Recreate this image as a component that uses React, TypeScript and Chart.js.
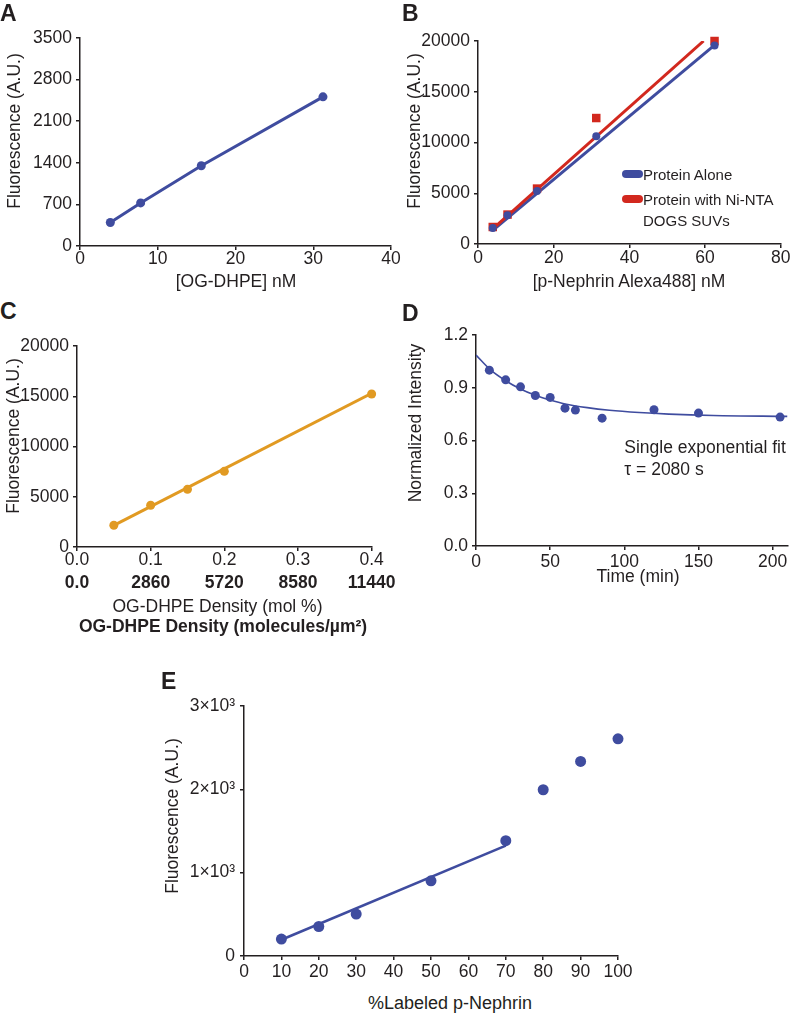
import React, { useEffect, useRef } from 'react';
import { Chart, registerables } from 'chart.js';

Chart.register(...registerables);

const FONT = '"Liberation Sans", Arial, Helvetica, sans-serif';
const AXIS = '#231f20';
const BLUE = '#3f4c9f';
const RED = '#d2281e';
const ORANGE = '#e19a22';

// ---------- Panel A ----------
const aConc = [3.9, 7.8, 15.6, 31.25];
const aFluor = [395, 725, 1350, 2510];
const aXTicks = [0, 10, 20, 30, 40];
const aXLabels = ['0', '10', '20', '30', '40'];
const aYTicks = [0, 700, 1400, 2100, 2800, 3500];
const aYLabels = ['0', '700', '1400', '2100', '2800', '3500'];

// ---------- Panel B ----------
const bConc = [3.9, 7.8, 15.6, 31.25, 62.5];
const bAlone = [1576, 2830, 5210, 10610, 19550];
const bNiNta = [1675, 2900, 5460, 12410, 20000];
const bAloneFitX = [3.9, 62.5];
const bAloneFitY = [1350, 19600];
const bNiFitX = [3.9, 59.6];
const bNiFitY = [1500, 20000];
const bXTicks = [0, 20, 40, 60, 80];
const bXLabels = ['0', '20', '40', '60', '80'];
const bYTicks = [0, 5000, 10000, 15000, 20000];
const bYLabels = ['0', '5000', '10000', '15000', '20000'];
const bSeriesNames = ['Protein Alone', 'Protein with Ni-NTA', 'DOGS SUVs'];

// ---------- Panel C ----------
const cMol = [0.05, 0.1, 0.15, 0.2, 0.4];
const cFluor = [2160, 4150, 5740, 7530, 15220];
const cFitX = [0.05, 0.4];
const cFitY = [2150, 15300];
const cXTicks = [0, 0.1, 0.2, 0.3, 0.4];
const cXLabels = ['0.0', '0.1', '0.2', '0.3', '0.4'];
const cXLabelsMolecules = ['0.0', '2860', '5720', '8580', '11440'];
const cYTicks = [0, 5000, 10000, 15000, 20000];
const cYLabels = ['0', '5000', '10000', '15000', '20000'];

// ---------- Panel D ----------
const dTime = [9, 20, 30, 40, 50, 60, 67, 85, 120, 150, 205];
const dIntensity = [1.0, 0.945, 0.905, 0.856, 0.845, 0.784, 0.773, 0.727, 0.775, 0.756, 0.733];
const dFitTime = [0, 10, 20, 30, 40, 50, 60, 75, 90, 110, 130, 160, 210];
const dFitIntensity = [1.086, 1.0, 0.94, 0.893, 0.857, 0.83, 0.808, 0.787, 0.772, 0.759, 0.75, 0.742, 0.737];
const dXTicks = [0, 50, 100, 150, 200];
const dXLabels = ['0', '50', '100', '150', '200'];
const dYTicks = [0, 0.3, 0.6, 0.9, 1.2];
const dYLabels = ['0.0', '0.3', '0.6', '0.9', '1.2'];

// ---------- Panel E ----------
const ePercent = [10, 20, 30, 50, 70, 80, 90, 100];
const eFluor = [203, 354, 503, 902, 1384, 1995, 2335, 2606];
const eFitX = [10, 70];
const eFitY = [195, 1324];
const eXTicks = [0, 10, 20, 30, 40, 50, 60, 70, 80, 90, 100];
const eXLabels = ['0', '10', '20', '30', '40', '50', '60', '70', '80', '90', '100'];
const eYTicks = [0, 1000, 2000, 3000];
const eYLabels = ['0', '1×10³', '2×10³', '3×10³'];

const pts = (xs: number[], ys: number[]) => xs.map((x, i) => ({ x, y: ys[i] }));

type AxisOpts = {
  min: number;
  max: number;
  ticks: number[];
  labels: string[];
  fit: number;
  isX: boolean;
  pad?: number;
  bold?: boolean;
  plain?: boolean;
  weight?: number;
};

function axis(o: AxisOpts) {
  return {
    type: 'linear',
    position: o.isX ? 'bottom' : 'left',
    min: o.min,
    max: o.max,
    weight: o.weight ?? 0,
    afterBuildTicks: (s: any) => {
      s.ticks = o.ticks.map((v) => ({ value: v }));
    },
    afterFit: (s: any) => {
      if (o.isX) s.height = o.fit;
      else s.width = o.fit;
    },
    ticks: {
      autoSkip: false,
      maxRotation: 0,
      minRotation: 0,
      color: AXIS,
      padding: o.pad ?? 4,
      font: { family: FONT, size: 17.5, weight: o.bold ? 'bold' : 'normal', lineHeight: 1 },
      callback: (_v: any, i: number) => o.labels[i],
    },
    grid: o.plain
      ? { display: false, drawTicks: false }
      : { display: true, drawOnChartArea: false, drawTicks: true, tickLength: 4, color: AXIS, lineWidth: 1.5 },
    border: o.plain ? { display: false } : { display: true, color: AXIS, width: 1.5 },
  };
}

type Area = [number, number, number, number];
type Margins = { l: number; t: number; r: number; b: number };

function Panel({ area, m, build }: { area: Area; m: Margins; build: (m: Margins) => any }) {
  const ref = useRef<HTMLCanvasElement | null>(null);
  const [L, T, R, B] = area;
  const left = Math.round(L) - m.l;
  const top = Math.round(T) - m.t;
  const w = Math.round(R) - Math.round(L) + m.l + m.r;
  const h = Math.round(B) - Math.round(T) + m.t + m.b;
  useEffect(() => {
    const cfg = build(m);
    cfg.options = {
      ...cfg.options,
      responsive: false,
      animation: false,
      devicePixelRatio: 1,
      layout: { padding: { left: 0, top: m.t, right: m.r, bottom: 0 } },
      plugins: { legend: { display: false }, tooltip: { enabled: false } },
    };
    const chart = new Chart(ref.current as HTMLCanvasElement, cfg);
    return () => chart.destroy();
  }, []);
  return (
    <canvas
      ref={ref}
      width={w}
      height={h}
      style={{ position: 'absolute', left, top, width: w, height: h }}
    />
  );
}

function Txt({
  x,
  y,
  children,
  anchor = 'center',
  rot = false,
  size = 17.5,
  bold = false,
}: {
  x: number;
  y: number;
  children: any;
  anchor?: 'center' | 'left';
  rot?: boolean;
  size?: number;
  bold?: boolean;
}) {
  const tx = anchor === 'center' ? '-50%' : '0';
  return (
    <div
      style={{
        position: 'absolute',
        left: x,
        top: y,
        transform: `translate(${tx}, -50%)${rot ? ' rotate(-90deg)' : ''}`,
        whiteSpace: 'nowrap',
        fontFamily: FONT,
        fontSize: size,
        fontWeight: bold ? 'bold' : 'normal',
        lineHeight: 1,
        color: AXIS,
      }}
    >
      {children}
    </div>
  );
}

function Pill({ x, y, color }: { x: number; y: number; color: string }) {
  return (
    <div
      style={{
        position: 'absolute',
        left: x,
        top: y - 4,
        width: 21,
        height: 8,
        borderRadius: 4,
        background: color,
      }}
    />
  );
}

const lineDs = (data: any, color: string, width: number, extra: any = {}) => ({
  data,
  showLine: true,
  borderColor: color,
  backgroundColor: color,
  borderWidth: width,
  pointRadius: 0,
  ...extra,
});

const pointDs = (data: any, color: string, r: number, style = 'circle') => ({
  data,
  showLine: false,
  borderColor: color,
  backgroundColor: color,
  pointRadius: r,
  pointBorderWidth: 0,
  pointStyle: style,
  clip: false,
});

export default function App() {
  const buildA = (m: Margins) => ({
    type: 'scatter',
    data: {
      datasets: [pointDs(pts(aConc, aFluor), BLUE, 4.5), lineDs(pts(aConc, aFluor), BLUE, 3)],
    },
    options: {
      scales: {
        x: axis({ min: 0, max: 40, ticks: aXTicks, labels: aXLabels, fit: m.b, isX: true, pad: 0 }),
        y: axis({ min: 0, max: 3500, ticks: aYTicks, labels: aYLabels, fit: m.l, isX: false }),
      },
    },
  });

  const buildB = (m: Margins) => ({
    type: 'scatter',
    data: {
      datasets: [
        pointDs(pts(bConc, bAlone), BLUE, 4),
        pointDs(pts(bConc, bNiNta), RED, 6, 'rect'),
        lineDs(pts(bNiFitX, bNiFitY), RED, 3),
        lineDs(pts(bAloneFitX, bAloneFitY), BLUE, 3),
      ],
    },
    options: {
      scales: {
        x: axis({ min: 0, max: 80, ticks: bXTicks, labels: bXLabels, fit: m.b, isX: true, pad: 1.5 }),
        y: axis({ min: 0, max: 20000, ticks: bYTicks, labels: bYLabels, fit: m.l, isX: false }),
      },
    },
  });

  const buildC = (m: Margins) => ({
    type: 'scatter',
    data: {
      datasets: [pointDs(pts(cMol, cFluor), ORANGE, 4.5), lineDs(pts(cFitX, cFitY), ORANGE, 3)],
    },
    options: {
      scales: {
        x: axis({ min: 0, max: 0.4, ticks: cXTicks, labels: cXLabels, fit: 21, isX: true, pad: 0.5 }),
        x2: axis({
          min: 0,
          max: 0.4,
          ticks: cXTicks,
          labels: cXLabelsMolecules,
          fit: m.b - 21,
          isX: true,
          pad: 6.5,
          bold: true,
          plain: true,
          weight: 1,
        }),
        y: axis({ min: 0, max: 20000, ticks: cYTicks, labels: cYLabels, fit: m.l, isX: false }),
      },
    },
  });

  const buildD = (m: Margins) => ({
    type: 'scatter',
    data: {
      datasets: [
        pointDs(pts(dTime, dIntensity), BLUE, 4.5),
        lineDs(pts(dFitTime, dFitIntensity), BLUE, 1.6, { cubicInterpolationMode: 'monotone' }),
      ],
    },
    options: {
      scales: {
        x: axis({ min: 0, max: 210, ticks: dXTicks, labels: dXLabels, fit: m.b, isX: true, pad: 3.5 }),
        y: axis({ min: 0, max: 1.2, ticks: dYTicks, labels: dYLabels, fit: m.l, isX: false }),
      },
    },
  });

  const buildE = (m: Margins) => ({
    type: 'scatter',
    data: {
      datasets: [pointDs(pts(ePercent, eFluor), BLUE, 5.5), lineDs(pts(eFitX, eFitY), BLUE, 2.6)],
    },
    options: {
      scales: {
        x: axis({ min: 0, max: 100, ticks: eXTicks, labels: eXLabels, fit: m.b, isX: true, pad: 3.5 }),
        y: axis({ min: 0, max: 3000, ticks: eYTicks, labels: eYLabels, fit: m.l, isX: false, pad: 5 }),
      },
    },
  });

  return (
    <div style={{ position: 'absolute', left: 0, top: 0, width: 792, height: 1014, overflow: 'hidden', background: '#fff' }}>
      <Panel area={[80, 38, 391, 246]} m={{ l: 70, t: 14, r: 24, b: 30 }} build={buildA} />
      <Panel area={[478, 41, 782, 244]} m={{ l: 70, t: 14, r: 10, b: 30 }} build={buildB} />
      <Panel area={[77, 346, 378, 547]} m={{ l: 70, t: 14, r: 24, b: 50 }} build={buildC} />
      <Panel area={[476, 335, 791, 546]} m={{ l: 70, t: 14, r: 1, b: 30 }} build={buildD} />
      <Panel area={[244, 706, 618, 956]} m={{ l: 75, t: 14, r: 24, b: 30 }} build={buildE} />

      {/* panel letters */}
      <Txt x={0} y={12.5} anchor="left" size={23} bold>A</Txt>
      <Txt x={402} y={12.5} anchor="left" size={23} bold>B</Txt>
      <Txt x={0} y={311} anchor="left" size={23} bold>C</Txt>
      <Txt x={402} y={313} anchor="left" size={23} bold>D</Txt>
      <Txt x={161} y={681} anchor="left" size={23} bold>E</Txt>

      {/* axis titles */}
      <Txt x={15} y={131} rot>Fluorescence (A.U.)</Txt>
      <Txt x={236} y={281.7}>[OG-DHPE] nM</Txt>
      <Txt x={415} y={131} rot>Fluorescence (A.U.)</Txt>
      <Txt x={629} y={281.7}>[p-Nephrin Alexa488] nM</Txt>
      <Txt x={13.5} y={436} rot>Fluorescence (A.U.)</Txt>
      <Txt x={217.5} y={606.7}>OG-DHPE Density (mol %)</Txt>
      <Txt x={223} y={626.5} bold>OG-DHPE Density (molecules/µm²)</Txt>
      <Txt x={415.5} y={422.5} rot>Normalized Intensity</Txt>
      <Txt x={638} y={576.7}>Time (min)</Txt>
      <Txt x={173} y={816} rot>Fluorescence (A.U.)</Txt>
      <Txt x={450} y={1002.7} size={18}>%Labeled p-Nephrin</Txt>

      {/* legend B */}
      <Pill x={622} y={174} color={BLUE} />
      <Pill x={622} y={199} color={RED} />
      <Txt x={643} y={174} anchor="left" size={15}>{bSeriesNames[0]}</Txt>
      <Txt x={643} y={199} anchor="left" size={15}>{bSeriesNames[1]}</Txt>
      <Txt x={643} y={219.5} anchor="left" size={15}>{bSeriesNames[2]}</Txt>

      {/* annotation D */}
      <Txt x={624.3} y={448.3} anchor="left">Single exponential fit</Txt>
      <Txt x={624.3} y={470} anchor="left">τ = 2080 s</Txt>
    </div>
  );
}
